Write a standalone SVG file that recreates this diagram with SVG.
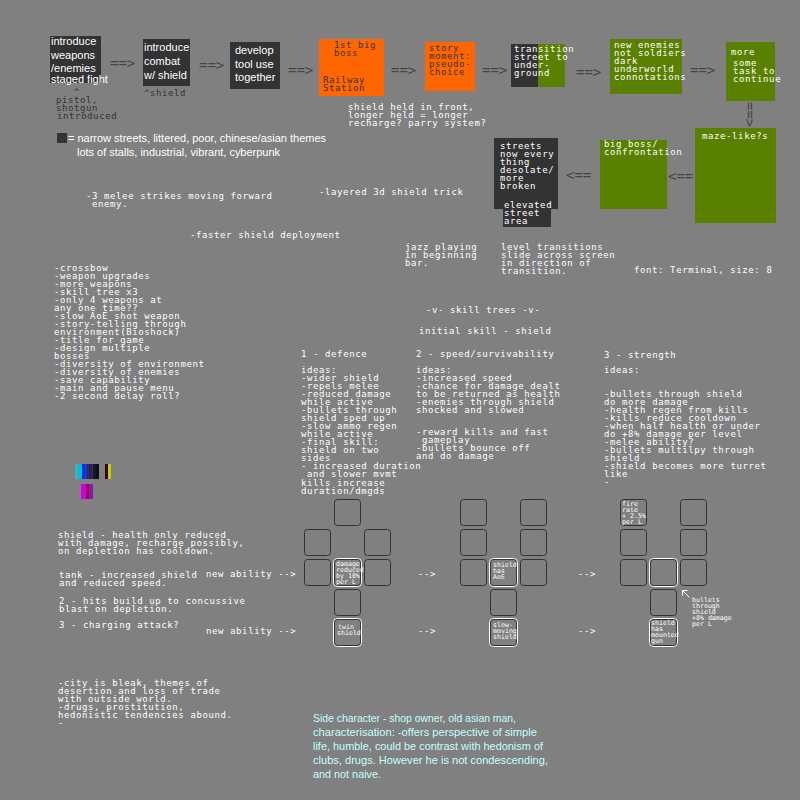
<svg xmlns="http://www.w3.org/2000/svg" width="800" height="800" viewBox="0 0 800 800">
<style>
.m{font-family:"DejaVu Sans Mono","Liberation Mono",monospace;font-size:9px;letter-spacing:0.6px;fill:#fff}
.d{fill:#333}
.s{font-family:"Liberation Sans",Arial,sans-serif;font-size:11px;fill:#fff}
.a{font-family:"DejaVu Sans Mono","Liberation Mono",monospace;font-size:14px;fill:#444}
.t{font-family:"DejaVu Sans Mono","Liberation Mono",monospace;font-size:6.6px;fill:#fff}
.dk{fill:#333}
.or{fill:#ff6600}
.gr{fill:#5a8000}
.cell{fill:none;stroke:#333;stroke-width:1}
.sel{fill:none;stroke:#fff;stroke-width:1}
</style>
<rect width="800" height="800" fill="#808080"/>

<g id="n1"><rect class="dk" x="50" y="36" width="51" height="47"/>
<text class="s"><tspan x="51" y="45">introduce</tspan><tspan x="51" y="59">weapons</tspan><tspan x="51" y="72">/enemies</tspan><tspan x="51" y="83">staged fight</tspan></text></g>
<g id="n1note"><text class="m d"><tspan x="74" y="95">^</tspan><tspan x="56" y="103">pistol,</tspan><tspan x="56" y="111">shotgun</tspan><tspan x="57" y="119">introduced</tspan></text></g>

<g id="n2"><rect class="dk" x="143" y="39" width="47" height="47"/>
<text class="s"><tspan x="144" y="51">introduce</tspan><tspan x="144" y="65">combat</tspan><tspan x="144" y="79">w/ shield</tspan></text></g>
<g id="n2note"><text class="m d" x="144" y="96">^shield</text></g>

<g id="n3"><rect class="dk" x="230" y="42" width="50" height="47"/>
<text class="s"><tspan x="235" y="54">develop</tspan><tspan x="235" y="68">tool use</tspan><tspan x="235" y="81">together</tspan></text></g>

<g id="n4"><rect class="or" x="319" y="39" width="65" height="57"/>
<text class="m d"><tspan x="334" y="48">1st big</tspan><tspan x="334" y="56">boss</tspan><tspan x="323" y="83">Railway</tspan><tspan x="323" y="91">Station</tspan></text></g>

<g id="n5"><rect class="or" x="425" y="42" width="50" height="49"/>
<text class="m d"><tspan x="429" y="51">story</tspan><tspan x="429" y="59">moment:</tspan><tspan x="429" y="67">pseudo-</tspan><tspan x="429" y="75">choice</tspan></text></g>

<g id="n6"><rect class="dk" x="511" y="44" width="27" height="43"/><rect class="gr" x="538" y="44" width="27" height="43"/>
<text class="m"><tspan x="514" y="52">transition</tspan><tspan x="514" y="60">street to</tspan><tspan x="514" y="68">under-</tspan><tspan x="514" y="76">ground</tspan></text></g>

<g id="n7"><rect class="gr" x="610" y="39" width="72" height="55"/>
<text class="m"><tspan x="614" y="48">new enemies</tspan><tspan x="614" y="56">not soldiers</tspan><tspan x="614" y="64">dark</tspan><tspan x="614" y="72">underworld</tspan><tspan x="614" y="80">connotations</tspan></text></g>

<g id="n8"><rect class="gr" x="726" y="42" width="49" height="59"/>
<text class="m"><tspan x="731" y="55">more</tspan><tspan x="733" y="66">some</tspan><tspan x="733" y="74">task to</tspan><tspan x="733" y="82">continue</tspan></text></g>

<g id="n9"><rect class="gr" x="695" y="128" width="81" height="95"/>
<text class="m" x="702" y="139">maze-like?s</text></g>

<g id="n10"><rect class="gr" x="600" y="140" width="67" height="69"/>
<text class="m"><tspan x="604" y="147">big boss/</tspan><tspan x="604" y="155">confrontation</tspan></text></g>

<g id="n11"><rect class="dk" x="494" y="138" width="64" height="71"/>
<text class="m"><tspan x="500" y="149">streets</tspan><tspan x="500" y="157">now every</tspan><tspan x="500" y="165">thing</tspan><tspan x="500" y="173">desolate/</tspan><tspan x="500" y="181">more</tspan><tspan x="500" y="189">broken</tspan></text></g>
<g id="n12"><rect class="dk" x="503" y="199" width="48" height="28"/>
<text class="m"><tspan x="504" y="208">elevated</tspan><tspan x="504" y="216">street</tspan><tspan x="504" y="224">area</tspan></text></g>

<g id="connectors">
<text class="a" x="110" y="67.5">==&gt;</text>
<text class="a" x="199" y="69.5">==&gt;</text>
<text class="a" x="288" y="74.5">==&gt;</text>
<text class="a" x="391" y="74.5">==&gt;</text>
<text class="a" x="482" y="74.5">==&gt;</text>
<text class="a" x="576" y="76.5">==&gt;</text>
<text class="a" x="690" y="74.5">==&gt;</text>
<text class="a" x="737" y="119" transform="rotate(90 749.5 114.5)">==&gt;</text>
<text class="a" x="668" y="180.5">&lt;==</text>
<text class="a" x="566" y="179.5">&lt;==</text>
</g>

<g id="notes">
<text class="m"><tspan x="348" y="110">shield held in front,</tspan><tspan x="348" y="118">longer held = longer</tspan><tspan x="348" y="126">recharge? parry system?</tspan></text>
<rect class="dk" x="57" y="133" width="10" height="10"/>
<text class="s" fill="#eee" x="68" y="142" textLength="258" lengthAdjust="spacingAndGlyphs">= narrow streets, littered, poor, chinese/asian themes</text>
<text class="s" fill="#eee" x="77" y="156" textLength="203" lengthAdjust="spacingAndGlyphs">lots of stalls, industrial, vibrant, cyberpunk</text>
<text class="m"><tspan x="86" y="199">-3 melee strikes moving forward</tspan><tspan x="92" y="207">enemy.</tspan></text>
<text class="m" x="319" y="195">-layered 3d shield trick</text>
<text class="m" x="190" y="238">-faster shield deployment</text>
<text class="m"><tspan x="54" y="271">-crossbow</tspan><tspan x="54" y="279">-weapon upgrades</tspan><tspan x="54" y="287">-more weapons</tspan><tspan x="54" y="295">-skill tree x3</tspan><tspan x="54" y="303">-only 4 weapons at</tspan><tspan x="54" y="311">any one time??</tspan><tspan x="54" y="319">-slow AoE shot weapon</tspan><tspan x="54" y="327">-story-telling through</tspan><tspan x="54" y="335">environment(Bioshock)</tspan><tspan x="54" y="343">-title for game</tspan><tspan x="54" y="351">-design multiple</tspan><tspan x="54" y="359">bosses</tspan><tspan x="54" y="367">-diversity of environment</tspan><tspan x="54" y="375">-diversity of enemies</tspan><tspan x="54" y="383">-save capability</tspan><tspan x="54" y="391">-main and pause menu</tspan><tspan x="54" y="399">-2 second delay roll?</tspan></text>
<text class="m"><tspan x="405" y="250">jazz playing</tspan><tspan x="405" y="258">in beginning</tspan><tspan x="405" y="266">bar.</tspan></text>
<text class="m"><tspan x="501" y="250">level transitions</tspan><tspan x="501" y="258">slide across screen</tspan><tspan x="501" y="266">in direction of</tspan><tspan x="501" y="274">transition.</tspan></text>
<text class="m" x="634" y="273">font: Terminal, size: 8</text>
<text class="m" x="426" y="313">-v- skill trees -v-</text>
<text class="m" x="419" y="334">initial skill - shield</text>
<text class="m"><tspan x="301" y="357">1 - defence</tspan><tspan x="301" y="373">ideas:</tspan><tspan x="301" y="381">-wider shield</tspan><tspan x="301" y="389">-repels melee</tspan><tspan x="301" y="397">-reduced damage</tspan><tspan x="301" y="405">while active</tspan><tspan x="301" y="413">-bullets through</tspan><tspan x="301" y="421">shield sped up</tspan><tspan x="301" y="429">-slow ammo regen</tspan><tspan x="301" y="437">while active</tspan><tspan x="301" y="445">-final skill:</tspan><tspan x="301" y="453">shield on two</tspan><tspan x="301" y="461">sides</tspan><tspan x="301" y="469">- increased duration</tspan><tspan x="307" y="477">and slower mvmt</tspan><tspan x="301" y="486">kills increase</tspan><tspan x="301" y="494">duration/dmgds</tspan></text>
<text class="m"><tspan x="416" y="357">2 - speed/survivability</tspan><tspan x="416" y="373">ideas:</tspan><tspan x="416" y="381">-increased speed</tspan><tspan x="416" y="389">-chance for damage dealt</tspan><tspan x="416" y="397">to be returned as health</tspan><tspan x="416" y="405">-enemies through shield</tspan><tspan x="416" y="413">shocked and slowed</tspan><tspan x="416" y="435">-reward kills and fast</tspan><tspan x="422" y="443">gameplay</tspan><tspan x="416" y="451">-bullets bounce off</tspan><tspan x="416" y="459">and do damage</tspan></text>
<text class="m"><tspan x="604" y="358">3 - strength</tspan><tspan x="604" y="373">ideas:</tspan><tspan x="604" y="397">-bullets through shield</tspan><tspan x="604" y="405">do more damage</tspan><tspan x="604" y="413">-health regen from kills</tspan><tspan x="604" y="421">-kills reduce cooldown</tspan><tspan x="604" y="429">-when half health or under</tspan><tspan x="604" y="437">do +8% damage per level</tspan><tspan x="604" y="445">-melee ability?</tspan><tspan x="604" y="453">-bullets multilpy through</tspan><tspan x="604" y="461">shield</tspan><tspan x="604" y="469">-shield becomes more turret</tspan><tspan x="604" y="477">like</tspan><tspan x="604" y="485">-</tspan></text>
<text class="m"><tspan x="58" y="538">shield - health only reduced</tspan><tspan x="58" y="546">with damage, recharge possibly,</tspan><tspan x="58" y="554">on depletion has cooldown.</tspan></text>
<text class="m"><tspan x="59" y="578">tank - increased shield</tspan><tspan x="59" y="586">and reduced speed.</tspan></text>
<text class="m"><tspan x="59" y="604">2 - hits build up to concussive</tspan><tspan x="59" y="612">blast on depletion.</tspan></text>
<text class="m" x="59" y="628">3 - charging attack?</text>
<text class="m" x="206" y="577">new ability --&gt;</text>
<text class="m" x="206" y="634">new ability --&gt;</text>
<text class="m" x="418" y="577">--&gt;</text>
<text class="m" x="418" y="634">--&gt;</text>
<text class="m" x="578" y="577">--&gt;</text>
<text class="m" x="578" y="634">--&gt;</text>
<text class="m"><tspan x="58" y="686">-city is bleak, themes of</tspan><tspan x="58" y="694">desertion and loss of trade</tspan><tspan x="58" y="702">with outside world.</tspan><tspan x="58" y="710">-drugs, prostitution,</tspan><tspan x="58" y="718">hedonistic tendencies abound.</tspan><tspan x="58" y="726">-</tspan></text>
<g class="s" style="fill:#c4ffff">
<text x="313" y="722" textLength="203" lengthAdjust="spacingAndGlyphs">Side character - shop owner, old asian man,</text>
<text x="313" y="736" textLength="224" lengthAdjust="spacingAndGlyphs">characterisation: -offers perspective of simple</text>
<text x="313" y="750" textLength="230" lengthAdjust="spacingAndGlyphs">life, humble, could be contrast with hedonism of</text>
<text x="313" y="764" textLength="235" lengthAdjust="spacingAndGlyphs">clubs, drugs. However he is not condescending,</text>
<text x="313" y="778" textLength="68" lengthAdjust="spacingAndGlyphs">and not naive.</text>
</g>
</g>

<g id="palette">
<rect x="75" y="464" width="3.5" height="15" fill="#40b0b8"/>
<rect x="78.5" y="464" width="3.5" height="15" fill="#00c0d0"/>
<rect x="82" y="464" width="3.5" height="15" fill="#0030ff"/>
<rect x="85.5" y="464" width="3.5" height="15" fill="#203080"/>
<rect x="89" y="464" width="3.5" height="15" fill="#302050"/>
<rect x="92.5" y="464" width="3.5" height="15" fill="#101830"/>
<rect x="96" y="464" width="3" height="15" fill="#101010"/>
<rect x="105" y="464" width="3" height="15" fill="#400020"/>
<rect x="108" y="464" width="3" height="15" fill="#c0d000"/>
<rect x="81" y="484" width="5" height="15" fill="#d000e0"/>
<rect x="86" y="484" width="3" height="15" fill="#a00060"/>
<rect x="89" y="484" width="4" height="15" fill="#8020a0"/>
</g>

<g id="tree1">
<rect class="cell" x="334.5" y="499.5" width="26" height="26" rx="3"/>
<rect class="cell" x="304.5" y="529.5" width="26" height="26" rx="3"/>
<rect class="cell" x="364.5" y="529.5" width="26" height="26" rx="3"/>
<rect class="cell" x="304.5" y="559.5" width="26" height="26" rx="3"/>
<rect class="cell" x="364.5" y="559.5" width="26" height="26" rx="3"/>
<rect class="cell" x="334.5" y="589.5" width="26" height="26" rx="3"/>
<rect class="sel" x="333.5" y="558.5" width="28" height="28" rx="4"/>
<rect class="cell" x="334.5" y="559.5" width="26" height="26" rx="3"/>
<text class="t"><tspan x="336" y="566">damage</tspan><tspan x="336" y="572">reduced</tspan><tspan x="336" y="578">by 10%</tspan><tspan x="336" y="584">per L</tspan></text>
<rect class="sel" x="333.5" y="618.5" width="28" height="28" rx="4"/>
<rect class="cell" x="334.5" y="619.5" width="26" height="26" rx="3"/>
<text class="t"><tspan x="338" y="629">twin</tspan><tspan x="337" y="635">shield</tspan></text>
</g>

<g id="tree2">
<rect class="cell" x="460.5" y="499.5" width="26" height="26" rx="3"/>
<rect class="cell" x="520.5" y="499.5" width="26" height="26" rx="3"/>
<rect class="cell" x="460.5" y="529.5" width="26" height="26" rx="3"/>
<rect class="cell" x="520.5" y="529.5" width="26" height="26" rx="3"/>
<rect class="cell" x="460.5" y="559.5" width="26" height="26" rx="3"/>
<rect class="cell" x="520.5" y="559.5" width="26" height="26" rx="3"/>
<rect class="cell" x="490.5" y="589.5" width="26" height="26" rx="3"/>
<rect class="sel" x="489.5" y="558.5" width="28" height="28" rx="4"/>
<rect class="cell" x="490.5" y="559.5" width="26" height="26" rx="3"/>
<text class="t"><tspan x="493" y="567">shield</tspan><tspan x="493" y="573">has</tspan><tspan x="493" y="579">AoE</tspan></text>
<rect class="sel" x="489.5" y="618.5" width="28" height="28" rx="4"/>
<rect class="cell" x="490.5" y="619.5" width="26" height="26" rx="3"/>
<text class="t"><tspan x="493" y="627">slow-</tspan><tspan x="493" y="633">moving</tspan><tspan x="493" y="639">shield</tspan></text>
</g>

<g id="tree3">
<rect class="cell" x="620.5" y="499.5" width="26" height="26" rx="3"/>
<text class="t"><tspan x="622" y="506">fire</tspan><tspan x="622" y="512">rate</tspan><tspan x="622" y="518">+ 2.5%</tspan><tspan x="622" y="524">per L</tspan></text>
<rect class="cell" x="680.5" y="499.5" width="26" height="26" rx="3"/>
<rect class="cell" x="620.5" y="529.5" width="26" height="26" rx="3"/>
<rect class="cell" x="680.5" y="529.5" width="26" height="26" rx="3"/>
<rect class="cell" x="620.5" y="559.5" width="26" height="26" rx="3"/>
<rect class="cell" x="680.5" y="559.5" width="26" height="26" rx="3"/>
<rect class="cell" x="650.5" y="589.5" width="26" height="26" rx="3"/>
<rect class="sel" x="649.5" y="558.5" width="28" height="28" rx="4"/>
<rect class="cell" x="650.5" y="559.5" width="26" height="26" rx="3"/>
<rect class="sel" x="649.5" y="618.5" width="28" height="28" rx="4"/>
<rect class="cell" x="650.5" y="619.5" width="26" height="26" rx="3"/>
<text class="t"><tspan x="651" y="625">shield</tspan><tspan x="651" y="631">has</tspan><tspan x="651" y="637">mounted</tspan><tspan x="651" y="643">gun</tspan></text>
<path d="M682.5 590.5 L689.5 597.5 M682.5 590.5 H687.5 M682.5 590.5 V595.5" stroke="#fff" stroke-width="1" fill="none"/>
<text class="t"><tspan x="692" y="602">bullets</tspan><tspan x="692" y="608">through</tspan><tspan x="692" y="614">shield</tspan><tspan x="692" y="620">+8% damage</tspan><tspan x="692" y="626">per L</tspan></text>
</g>
</svg>
